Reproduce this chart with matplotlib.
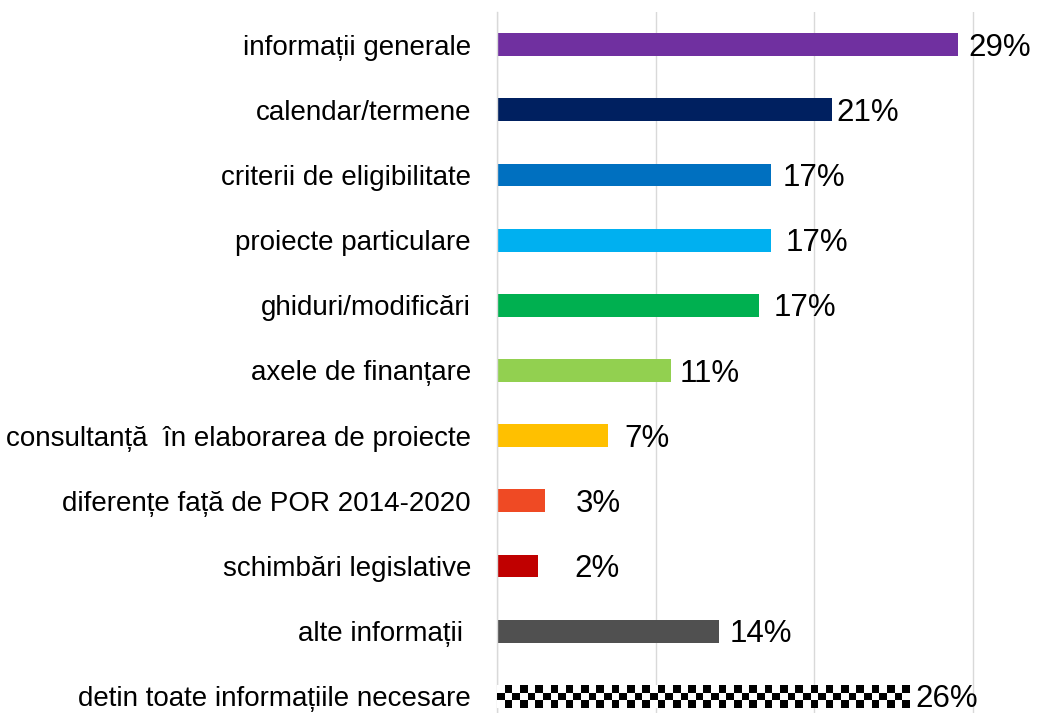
import numpy as np
import matplotlib
matplotlib.use("Agg")
import matplotlib.pyplot as plt

categories = [
    "informații generale",
    "calendar/termene",
    "criterii de eligibilitate",
    "proiecte particulare",
    "ghiduri/modificări",
    "axele de finanțare",
    "consultanță  în elaborarea de proiecte",
    "diferențe față de POR 2014-2020",
    "schimbări legislative",
    "alte informații ",
    "detin toate informațiile necesare",
]
values = [29.1, 21.1, 17.3, 17.3, 16.5, 11.0, 7.0, 3.0, 2.6, 14.0, 26.0]
value_labels = ["29%", "21%", "17%", "17%", "17%", "11%", "7%", "3%", "2%", "14%", "26%"]
colors = ["#7030A0", "#002060", "#0070C0", "#00B0F0", "#00B050", "#92D050",
          "#FFC000", "#EF4A24", "#C00000", "#505050", "checker"]
label_gap_px = [10, 5, 11, 14, 15, 8, 16, 31, 36, 11, 6]

plt.rcParams['font.family'] = ['Liberation Sans', 'DejaVu Sans']

W, H = 1037, 713
fig = plt.figure(figsize=(W / 100, H / 100), dpi=100)
left_px, right_px = 497, 1052
top_px, bottom_px = 12, 729
ax = fig.add_axes([left_px / W, 1 - bottom_px / H, (right_px - left_px) / W, (bottom_px - top_px) / H])

n = len(categories)
y = np.arange(n)
bar_h = 0.35

for i, (v, c) in enumerate(zip(values, colors)):
    if c == "checker":
        bar = ax.barh(i, v, height=bar_h, color="white", edgecolor="none", zorder=2)[0]
        ncols = int(round(v / 0.48))
        checker = (np.indices((3, ncols)).sum(axis=0) % 2).astype(float)
        im = ax.imshow(checker, cmap="gray_r", vmin=0, vmax=1, aspect="auto",
                       interpolation="nearest",
                       extent=(0, v, i + bar_h / 2, i - bar_h / 2), zorder=3)
        im.set_clip_path(bar)
    else:
        ax.barh(i, v, height=bar_h, color=c, edgecolor="none", zorder=2)

for i, (v, lab, gap) in enumerate(zip(values, value_labels, label_gap_px)):
    ax.annotate(lab, xy=(v, i), xytext=(gap * 0.72, -2.2), textcoords="offset points",
                ha="left", va="center", fontsize=22.5, color="#000000", zorder=4)

ax.set_xlim(0, 35)
ax.set_ylim(n - 0.5, -0.5)
ax.set_yticks(y)
ax.set_yticklabels(categories, fontsize=20, color="#000000")
ax.tick_params(axis="y", length=0, pad=26 * 0.72)
ax.tick_params(axis="x", length=0, labelbottom=False)
ax.set_xticks([0, 10, 20, 30])
ax.grid(axis="x", color="#D9D9D9", linewidth=1.0, zorder=0)
ax.set_axisbelow(True)
for s in ["top", "right", "bottom"]:
    ax.spines[s].set_visible(False)
ax.spines["left"].set_color("#D9D9D9")
ax.spines["left"].set_linewidth(1.0)

fig.savefig("out.png", dpi=100)
